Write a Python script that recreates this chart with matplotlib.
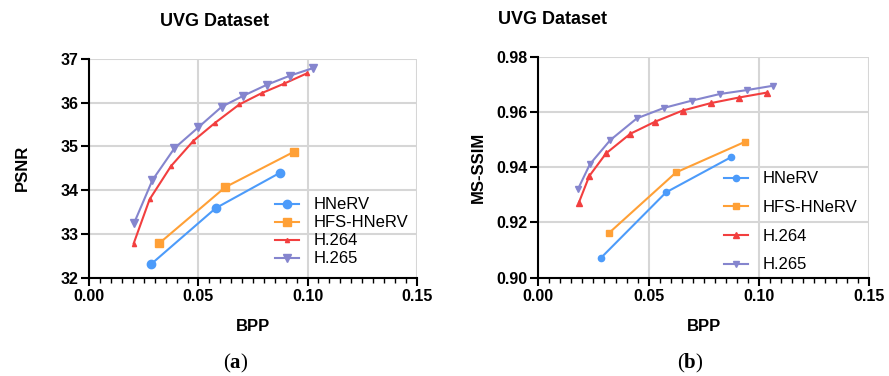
import matplotlib
matplotlib.use("Agg")
import matplotlib.pyplot as plt
from matplotlib.ticker import MultipleLocator, FormatStrFormatter

plt.rcParams['font.family'] = ['Liberation Sans', 'DejaVu Sans']
plt.rcParams['mathtext.fontset'] = 'custom'
plt.rcParams['mathtext.rm'] = 'Liberation Serif'
plt.rcParams['mathtext.bf'] = 'Liberation Serif:bold'

series_names = ["HNeRV", "HFS-HNeRV", "H.264", "H.265"]
colors = ["#4C9BFA", "#FFA036", "#F23F3F", "#8585CE"]
markers = ["o", "s", "^", "v"]

# (a) PSNR
psnr_hnerv_x = [0.0283, 0.0579, 0.0874]
psnr_hnerv_y = [32.31, 33.59, 34.40]
psnr_hfs_x = [0.0321, 0.0623, 0.0938]
psnr_hfs_y = [32.79, 34.07, 34.88]
psnr_h264_x = [0.0203, 0.0276, 0.0374, 0.0477, 0.0576, 0.0687, 0.0790, 0.0894, 0.0996]
psnr_h264_y = [32.78, 33.79, 34.55, 35.13, 35.54, 35.96, 36.22, 36.44, 36.67]
psnr_h265_x = [0.0206, 0.0289, 0.0390, 0.0500, 0.0607, 0.0706, 0.0813, 0.0920, 0.1024]
psnr_h265_y = [33.26, 34.23, 34.96, 35.44, 35.91, 36.16, 36.41, 36.62, 36.79]

# (b) MS-SSIM
ssim_hnerv_x = [0.0283, 0.0579, 0.0873]
ssim_hnerv_y = [0.9071, 0.9309, 0.9436]
ssim_hfs_x = [0.0322, 0.0624, 0.0937]
ssim_hfs_y = [0.9163, 0.9381, 0.9492]
ssim_h264_x = [0.0184, 0.0231, 0.0307, 0.0417, 0.0530, 0.0654, 0.0782, 0.0908, 0.1035]
ssim_h264_y = [0.9272, 0.9368, 0.9450, 0.9521, 0.9565, 0.9605, 0.9632, 0.9652, 0.9670]
ssim_h265_x = [0.0180, 0.0234, 0.0326, 0.0447, 0.0571, 0.0696, 0.0823, 0.0944, 0.1065]
ssim_h265_y = [0.9321, 0.9411, 0.9498, 0.9577, 0.9615, 0.9641, 0.9665, 0.9679, 0.9695]

x_ticks = [0.00, 0.05, 0.10, 0.15]
psnr_ticks = [32, 33, 34, 35, 36, 37]
ssim_ticks = [0.90, 0.92, 0.94, 0.96, 0.98]

fig = plt.figure(figsize=(8.89, 3.76), dpi=100)
ax1 = fig.add_axes([0.1005, 0.2614, 0.3682, 0.5817])
ax2 = fig.add_axes([0.6055, 0.2614, 0.3723, 0.5878])


def style(ax, yticks, yfmt):
    ax.set_xlim(0, 0.15)
    ax.set_ylim(yticks[0], yticks[-1])
    ax.set_xticks(x_ticks)
    ax.set_yticks(yticks)
    ax.xaxis.set_minor_locator(MultipleLocator(0.005))
    ax.xaxis.set_major_formatter(FormatStrFormatter('%.2f'))
    ax.yaxis.set_major_formatter(FormatStrFormatter(yfmt))
    for s in ['top', 'right']:
        ax.spines[s].set_visible(False)
    for s in ['left', 'bottom']:
        ax.spines[s].set_linewidth(1.5)
        ax.spines[s].set_color('black')
    ax.grid(True, which='major', color='#D6D6D6', linewidth=1.5, zorder=0)
    ax.set_axisbelow(True)
    ax.tick_params(which='major', length=6, width=1.5, pad=2, labelsize=11.5)
    ax.tick_params(which='minor', length=3.5, width=1.0)
    for lab in ax.get_xticklabels() + ax.get_yticklabels():
        lab.set_fontweight('bold')
    ax.set_xlabel("BPP", fontsize=12, fontweight='bold', labelpad=11)


# Left plot
style(ax1, psnr_ticks, '%d')
data1 = [(psnr_hnerv_x, psnr_hnerv_y), (psnr_hfs_x, psnr_hfs_y),
         (psnr_h264_x, psnr_h264_y), (psnr_h265_x, psnr_h265_y)]
msizes1 = [6, 6, 3, 6]
for (x, y), name, c, m, ms in zip(data1, series_names, colors, markers, msizes1):
    ax1.plot(x, y, color=c, marker=m, markersize=ms, linewidth=1.5, label=name,
             clip_on=False, zorder=3)
ax1.set_ylabel("PSNR", fontsize=12, fontweight='bold', labelpad=22)
ax1.legend(loc='upper left', bbox_to_anchor=(0.567, 0.367), frameon=False,
           fontsize=12, borderpad=0, borderaxespad=0, labelspacing=0.18,
           handlelength=1.45, handletextpad=0.85)

# Right plot
style(ax2, ssim_ticks, '%.2f')
data2 = [(ssim_hnerv_x, ssim_hnerv_y), (ssim_hfs_x, ssim_hfs_y),
         (ssim_h264_x, ssim_h264_y), (ssim_h265_x, ssim_h265_y)]
msizes2 = [4.5, 4.5, 4.5, 4.5]
for (x, y), name, c, m, ms in zip(data2, series_names, colors, markers, msizes2):
    ax2.plot(x, y, color=c, marker=m, markersize=ms, linewidth=1.5, label=name,
             clip_on=False, zorder=3)
ax2.set_ylabel("MS-SSIM", fontsize=12, fontweight='bold', labelpad=7)
ax2.legend(loc='upper left', bbox_to_anchor=(0.561, 0.481), frameon=False,
           fontsize=12, borderpad=0, borderaxespad=0, labelspacing=0.82,
           handlelength=1.45, handletextpad=0.85)

# Titles
fig.text(214 / 889, 1 - 22 / 376, "UVG Dataset", ha='center', va='center',
         fontsize=13, fontweight='bold')
fig.text(552 / 889, 1 - 20 / 376, "UVG Dataset", ha='center', va='center',
         fontsize=13, fontweight='bold')

# Captions
fig.text(236 / 889, 1 - 363 / 376, r"($\mathbf{a}$)", ha='center', va='center',
         fontsize=15, family='Liberation Serif')
fig.text(690 / 889, 1 - 363 / 376, r"($\mathbf{b}$)", ha='center', va='center',
         fontsize=15, family='Liberation Serif')

fig.savefig("out.png", dpi=100)
